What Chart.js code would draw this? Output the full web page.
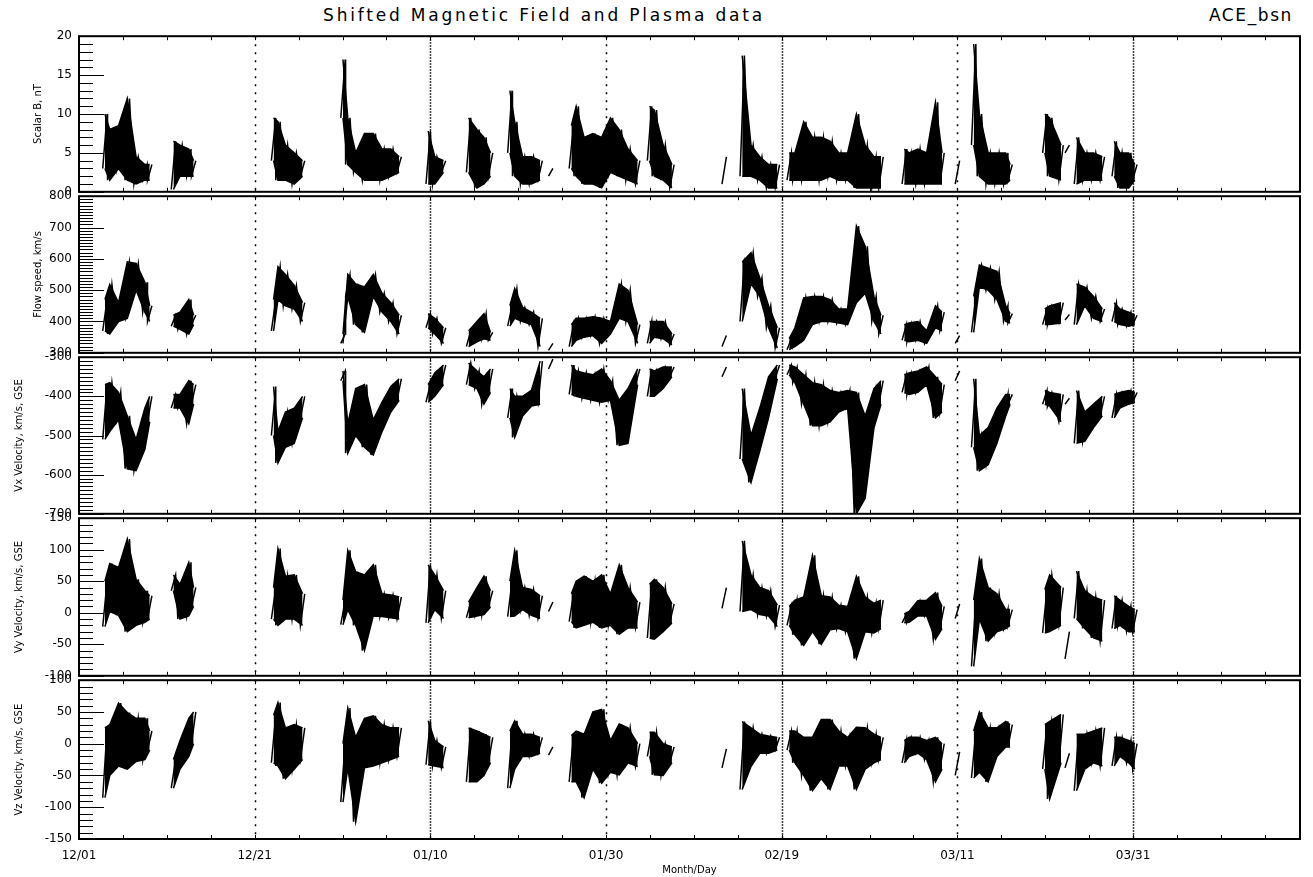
<!DOCTYPE html>
<html>
<head>
<meta charset="utf-8">
<script src="https://cdn.jsdelivr.net/npm/chart.js@4.4.1/dist/chart.umd.min.js"></script>
<style>
    body { margin: 0; background: #fff; width: 1313px; height: 877px; position: relative; overflow: hidden; font-family: "DejaVu Sans", sans-serif; }
    canvas { position: absolute; left: 0; }
    #title { position: absolute; top: 5px; left: 0; width: 1088px; text-align: center; font-size: 17px; letter-spacing: 2.8px; }
    #tag { position: absolute; top: 5px; right: 20px; font-size: 17px; letter-spacing: 1.6px; }
</style>
</head>
<body>
<div id="title">Shifted Magnetic Field and Plasma data</div>
<div id="tag">ACE_bsn</div>
<canvas id="p0" width="1313" height="184"></canvas>
<canvas id="p1" width="1313" height="185"></canvas>
<canvas id="p2" width="1313" height="185"></canvas>
<canvas id="p3" width="1313" height="186"></canvas>
<canvas id="p4" width="1313" height="211"></canvas>
<script>
// x tick labels, one every 20 days starting 12/01
const dayLabels = ['12/01', '12/21', '01/10', '01/30', '02/19', '03/11', '03/31'];

// sample times in days after 12/01; null marks a data gap
const days = [
    2.95, 3.5, 4.5, 5.5, 6.5, 7.5, 8.05, null,
    10.75, 11.5, 12.5, 13.05, null,
    22.15, 22.65, 23.5, 24.5, 25.45, null,
    30.05, 30.6, 31.5, 32.5, 33.5, 34.5, 35.5, 36.45, null,
    39.75, 40.5, 41.5, null,
    44.35, 45.3, 46.1, 46.85, null,
    49.05, 49.6, 50.5, 51.5, 52.5, null,
    53.7, null,
    56.05, 56.6, 57.5, 58.5, 59.5, 60.5, 61.5, 62.5, 63.6, null,
    64.95, 65.5, 66.5, 67.5, null,
    73.45, null,
    75.5, 76.5, 77.5, 78.5, 79.5, null,
    80.85, 81.5, 82.5, 83.5, 84.5, 85.5, 86.5, 87.5, 88.5, 89.5, 90.5, 91.3, null,
    93.95, 94.5, 95.5, 96.5, 97.5, 98.25, null,
    100.0, null,
    101.85, 102.5, 103.5, 104.5, 105.5, 106.0, null,
    109.95, 110.5, 111.8, null,
    112.5, null,
    113.55, 114.5, 115.5, 116.5, null,
    117.85, 118.5, 119.5, 120.2
];

// scalar B, nT (low / high of each sample)
const bLo = [
    3, 1.5, 3, 1.5, 1, 1.5, 1.5, null,
    0.3, 2, 2, 2, null,
    4, 1.5, 1.5, 1, 2, null,
    9.5, 3.5, 2.5, 1.5, 1.5, 1.5, 2, 2.5, null,
    1, 1, 2.5, null,
    2.5, 0.5, 1, 2, null,
    5, 2, 1, 1, 1.5, null,
    2, null,
    3, 2, 1, 1, 0.5, 2.5, 2, 1.5, 1, null,
    4, 2, 1.5, 0.5, null,
    1, null,
    2, 2, 1.5, 0.5, 0.5, null,
    1.5, 1.5, 1.5, 1.5, 1.5, 2, 1.5, 1.5, 0.5, 0.5, 0.5, 0.5, null,
    1, 1, 1, 1, 1, 1, null,
    1, null,
    6, 2, 1, 1, 1, 1.5, null,
    5, 2, 1.5, null,
    5, null,
    1, 1.5, 1.5, 1.5, null,
    2, 0.5, 0.5, 1.5
];
const bHi = [
    10, 8, 8.5, 12, 4.5, 3.5, 3.5, null,
    6.5, 6, 5.5, 4, null,
    9.5, 9, 6, 5, 4, null,
    17, 9.5, 5, 7.5, 7.5, 5.5, 5.5, 4.5, null,
    7.8, 4.5, 4, null,
    9.5, 8, 7, 5, null,
    13, 9, 4.5, 4.5, 4, null,
    3, null,
    8.5, 11, 7, 7.5, 7, 9.5, 8, 5.5, 4, null,
    11, 10.5, 6, 3.5, null,
    4.5, null,
    17.5, 6, 4.5, 3.5, 3.5, null,
    5, 5, 9, 7, 7, 6.5, 5, 5, 10, 6, 4.5, 4.5, null,
    5.5, 5, 5.5, 5, 11.5, 5, null,
    4, null,
    19, 10, 5, 5, 5, 3.5, null,
    10, 9.5, 6, null,
    6, null,
    7, 5, 5, 4.5, null,
    6.5, 5, 5, 3.5
];

// flow speed, km/s
const vLo = [
    370, 360, 400, 410, 500, 430, 400, null,
    385, 375, 360, 390, null,
    370, 470, 450, 440, 400, null,
    330, 480, 390, 365, 480, 430, 400, 360, null,
    380, 360, 330, null,
    320, 335, 345, 340, null,
    385, 410, 400, 390, 320, null,
    308, null,
    320, 340, 350, 355, 330, 360, 410, 400, 330, null,
    330, 350, 345, 325, null,
    320, null,
    400, 520, 480, 380, 315, null,
    310, 320, 340, 390, 400, 400, 395, 390, 460, 490, 400, 360, null,
    340, 335, 340, 330, 380, 370, null,
    330, null,
    365, 510, 500, 470, 400, 395, null,
    390, 390, 395, null,
    405, null,
    390, 450, 410, 400, null,
    400, 390, 385, 390
];
const vHi = [
    470, 518, 460, 590, 585, 525, 450, null,
    420, 430, 470, 420, null,
    470, 575, 550, 515, 460, null,
    360, 550, 520, 510, 550, 490, 460, 420, null,
    425, 410, 380, null,
    370, 400, 425, 365, null,
    450, 505, 445, 430, 410, null,
    330, null,
    390, 410, 410, 415, 410, 400, 520, 500, 390, null,
    400, 400, 400, 360, null,
    355, null,
    590, 620, 540, 450, 380, null,
    345, 380, 475, 480, 480, 470, 440, 440, 705, 640, 480, 420, null,
    390, 395, 400, 370, 450, 430, null,
    355, null,
    480, 580, 570, 560, 450, 425, null,
    440, 450, 460, null,
    422, null,
    520, 510, 480, 440, null,
    460, 440, 430, 420
];

// Vx, km/s GSE
const vxLo = [
    -510, -490, -460, -585, -590, -535, -465, null,
    -430, -430, -470, -420, null,
    -500, -570, -530, -520, -455, null,
    -360, -545, -500, -530, -550, -490, -440, -410, null,
    -415, -400, -370, null,
    -370, -380, -420, -390, null,
    -455, -505, -450, -425, -420, null,
    -330, null,
    -395, -400, -405, -410, -415, -410, -525, -520, -370, null,
    -400, -400, -380, -350, null,
    -350, null,
    -560, -620, -540, -455, -355, null,
    -345, -365, -420, -475, -475, -465, -440, -430, -700, -660, -480, -420, null,
    -390, -395, -390, -370, -455, -440, null,
    -360, null,
    -530, -590, -575, -520, -450, -420, null,
    -420, -425, -465, null,
    -420, null,
    -520, -515, -480, -450, null,
    -455, -430, -420, -415
];
const vxHi = [
    -370, -365, -390, -450, -510, -430, -400, null,
    -395, -395, -360, -370, null,
    -375, -490, -440, -430, -400, null,
    -335, -470, -380, -370, -460, -415, -375, -355, null,
    -370, -340, -320, null,
    -315, -335, -350, -330, null,
    -380, -400, -400, -385, -310, null,
    -305, null,
    -320, -335, -340, -345, -330, -360, -410, -380, -330, null,
    -330, -335, -325, -325, null,
    -325, null,
    -380, -500, -430, -350, -320, null,
    -320, -325, -345, -365, -370, -385, -390, -385, -390, -450, -380, -360, null,
    -345, -340, -335, -325, -350, -370, null,
    -335, null,
    -355, -500, -480, -430, -395, -395, null,
    -385, -390, -395, null,
    -405, null,
    -385, -440, -420, -400, null,
    -395, -390, -385, -390
];

// Vy, km/s GSE
const vyLo = [
    -22, 2, -4, -30, -20, -15, -10, null,
    35, -10, -5, 10, null,
    -10, -20, -10, -10, -20, null,
    -19, 5, -20, -60, -5, -6, -8, -10, null,
    -16, 5, -9, null,
    -8, -5, -3, 9, null,
    -6, -5, 5, -4, -9, null,
    2, null,
    -14, -24, -20, -15, -24, -20, -34, -24, -24, null,
    -40, -42, -30, -16, null,
    7, null,
    2, 5, -3, -5, -22, null,
    -20, -35, -52, -30, -50, -27, -25, -30, -73, -30, -32, -25, null,
    -16, -15, -5, -5, -42, -25, null,
    -9, null,
    -85, -10, -45, -30, -25, -20, null,
    -32, -30, -20, null,
    -73, null,
    -9, -25, -40, -45, null,
    -25, -20, -30, -30
];
const vyHi = [
    50, 78, 72, 117, 53, 35, 27, null,
    60, 45, 80, 40, null,
    40, 102, 58, 60, 30, null,
    20, 99, 65, 60, 76, 30, 28, 25, null,
    76, 60, 35, null,
    17, 40, 58, 35, null,
    50, 99, 40, 37, 27, null,
    17, null,
    30, 50, 58, 50, 60, 30, 76, 40, 17, null,
    45, 53, 40, 14, null,
    40, null,
    114, 60, 40, 35, 12, null,
    10, 20, 25, 91, 27, 25, 12, 10, 58, 25, 15, 20, null,
    -2, 2, 19, 20, 32, 10, null,
    14, null,
    20, 86, 40, 30, 5, 5, null,
    37, 60, 40, null,
    -30, null,
    66, 35, 25, 20, null,
    27, 20, 10, 5
];

// Vz, km/s GSE
const vzLo = [
    -85, -50, -35, -40, -28, -25, -10, null,
    -70, -40, -20, 0, null,
    -30, -35, -55, -40, -25, null,
    -92, -38, -123, -38, -35, -30, -25, -20, null,
    -33, -35, -38, null,
    -60, -60, -50, -30, null,
    -70, -40, -20, -20, -15, null,
    -18, null,
    -60, -60, -85, -40, -62, -45, -49, -30, -36, null,
    -20, -49, -50, -30, null,
    -38, null,
    -72, -36, -15, -15, -10, null,
    -10, -30, -50, -74, -55, -72, -35, -35, -72, -40, -30, -25, null,
    -30, -20, -15, -25, -60, -40, null,
    -50, null,
    -54, -45, -60, -20, -5, -5, null,
    -40, -87, -30, null,
    -38, null,
    -74, -40, -30, -35, null,
    -35, -20, -30, -40
];
const vzHi = [
    25, 30, 64, 49, 40, 40, 20, null,
    -25, 5, 40, 50, null,
    45, 65, 25, 30, 25, null,
    0, 56, 10, 40, 44, 30, 25, 25, null,
    36, 5, -5, null,
    25, 20, 15, 10, null,
    20, 36, 15, 15, 10, null,
    -5, null,
    13, 20, 15, 50, 54, 5, 31, 25, 0, null,
    18, 18, 0, -5, null,
    -8, null,
    35, 25, 15, 12, 10, null,
    20, 20, 10, 10, 38, 38, 20, 10, 26, 25, 15, 10, null,
    5, 10, 10, 5, 10, 0, null,
    -13, null,
    20, 50, 25, 25, 35, 30, null,
    30, 35, 46, null,
    -15, null,
    15, 15, 20, 25, null,
    10, 10, 5, 0
];

const panels = [
    { id: 'p0', title: 'Scalar B, nT', lo: bLo, hi: bHi, min: 0, max: 20, step: 5, minor: 1, titlePad: 32 },
    { id: 'p1', title: 'Flow speed, km/s', lo: vLo, hi: vHi, min: 300, max: 800, step: 100, minor: 10, titlePad: 32 },
    { id: 'p2', title: 'Vx Velocity, km/s, GSE', lo: vxLo, hi: vxHi, min: -700, max: -300, step: 100, minor: 10, titlePad: 13 },
    { id: 'p3', title: 'Vy Velocity, km/s, GSE', lo: vyLo, hi: vyHi, min: -100, max: 150, step: 50, minor: 10, titlePad: 13 },
    { id: 'p4', title: 'Vz Velocity, km/s, GSE', lo: vzLo, hi: vzHi, min: -150, max: 100, step: 50, minor: 10, titlePad: 13 }
];

// page y of each panel's top edge, plus the bottom of the last one
const panelEdges = [34, 194, 355, 516, 678, 839];

// one edge of the low..high band, broken at the gaps
function edge(vals) {
    return days.map((d, i) => d === null
        ? { x: (days[i - 1] + days[i + 1]) / 2, y: null }
        : { x: d, y: vals[i] });
}

// zigzag stroke from each sample's low to its high value
function zigzag(lo, hi) {
    const pts = [];
    for (let i = 0; i < days.length; i++) {
        if (days[i] === null) {
            pts.push({ x: (days[i - 1] + days[i + 1]) / 2, y: null });
            continue;
        }
        pts.push({ x: days[i] - 0.25, y: lo[i] });
        pts.push({ x: days[i] + 0.25, y: hi[i] });
    }
    return pts;
}

const framePlugin = {
    id: 'frame',
    beforeDatasetsDraw(chart) {
        const { ctx, chartArea: a, scales: { x } } = chart;
        ctx.save();
        ctx.strokeStyle = '#000';
        ctx.lineWidth = 1.5;
        for (let d = 20; d <= 120; d += 20) {
            const px = Math.round(x.getPixelForValue(d)) + 0.5;
            ctx.setLineDash(d % 40 === 0 ? [1.5, 1.5] : [2, 6]);
            ctx.beginPath();
            ctx.moveTo(px, a.top);
            ctx.lineTo(px, a.bottom);
            ctx.stroke();
        }
        ctx.restore();
    },
    afterDatasetsDraw(chart, args, opts) {
        const { ctx, chartArea: a, scales: { x, y } } = chart;
        ctx.save();
        ctx.strokeStyle = '#000';
        ctx.lineWidth = 1;
        ctx.beginPath();
        for (let v = y.min; v <= y.max + 1e-9; v += opts.minor) {
            const py = Math.round(y.getPixelForValue(v)) + 0.5;
            const isMajor = Math.abs(v / opts.step - Math.round(v / opts.step)) < 1e-6;
            ctx.moveTo(a.left, py);
            ctx.lineTo(a.left + (isMajor ? 25 : 14), py);
        }
        for (let d = 5; d < 139; d += 5) {
            const px = Math.round(x.getPixelForValue(d)) + 0.5;
            ctx.moveTo(px, a.top);
            ctx.lineTo(px, a.top + 4);
            ctx.moveTo(px, a.bottom);
            ctx.lineTo(px, a.bottom - 4);
        }
        ctx.stroke();
        ctx.lineWidth = 2;
        ctx.strokeRect(a.left, a.top, a.right - a.left, a.bottom - a.top);
        ctx.restore();
    }
};

panels.forEach((p, i) => {
    const last = i === panels.length - 1;
    const canvas = document.getElementById(p.id);
    canvas.style.top = (panelEdges[i] - 12) + 'px';

    const lineBase = { borderColor: '#000', pointRadius: 0, tension: 0, spanGaps: false };
    new Chart(canvas, {
        type: 'line',
        data: {
            datasets: [
                { ...lineBase, data: edge(p.lo), borderWidth: 1.5, fill: false },
                { ...lineBase, data: edge(p.hi), borderWidth: 1.5, fill: '-1', backgroundColor: '#000' },
                { ...lineBase, data: zigzag(p.lo, p.hi), borderWidth: 1.5, fill: false }
            ]
        },
        options: {
            responsive: false,
            animation: false,
            devicePixelRatio: 1,
            layout: { padding: { top: 12, bottom: last ? 0 : 12, left: 0, right: 13 } },
            plugins: {
                legend: { display: false },
                tooltip: { enabled: false },
                filler: { propagate: false },
                frame: { step: p.step, minor: p.minor }
            },
            scales: {
                x: {
                    type: 'linear',
                    min: 0,
                    max: 139,
                    display: last,
                    grid: { display: false, drawTicks: false },
                    border: { display: false },
                    ticks: {
                        stepSize: 20,
                        autoSkip: false,
                        maxRotation: 0,
                        padding: 10,
                        color: '#000',
                        font: { family: 'DejaVu Sans', size: 12 },
                        callback: v => (v % 20 === 0 && dayLabels[v / 20]) ? dayLabels[v / 20] : ''
                    },
                    title: {
                        display: true,
                        text: 'Month/Day',
                        color: '#000',
                        font: { family: 'DejaVu Sans', size: 10 },
                        padding: { top: 0, bottom: 1 }
                    },
                    afterFit: s => { if (last) s.height = 38; }
                },
                y: {
                    min: p.min,
                    max: p.max,
                    grid: { display: false, drawTicks: false },
                    border: { display: false },
                    ticks: {
                        stepSize: p.step,
                        padding: 7,
                        color: '#000',
                        font: { family: 'DejaVu Sans', size: 12 }
                    },
                    title: {
                        display: true,
                        text: p.title,
                        color: '#000',
                        font: { family: 'DejaVu Sans', size: 10 },
                        padding: { top: p.titlePad, bottom: 0 }
                    },
                    afterFit: s => { s.width = 79; }
                }
            }
        },
        plugins: [framePlugin]
    });
});
</script>
</body>
</html>
